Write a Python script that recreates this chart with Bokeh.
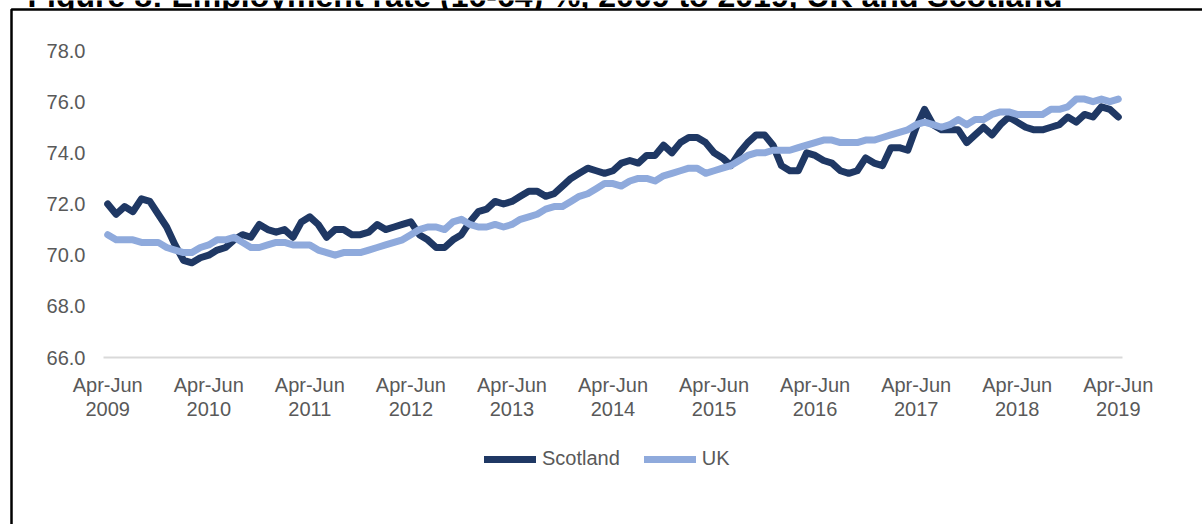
from bokeh.plotting import figure
from bokeh.models import (FixedTicker, Legend, LegendItem, Label, BoxAnnotation,
                          NumeralTickFormatter, ColumnDataSource, Range1d)
from bokeh.embed import file_html
from bokeh.resources import INLINE

# Rolling quarters, Apr-Jun 2009 ... Apr-Jun 2019 (121 periods)
scotland = [
    72.0, 71.6, 71.9, 71.7, 72.2, 72.1, 71.6, 71.1, 70.4, 69.8,
    69.7, 69.9, 70.0, 70.2, 70.3, 70.6, 70.8, 70.7, 71.2, 71.0,
    70.9, 71.0, 70.7, 71.3, 71.5, 71.2, 70.7, 71.0, 71.0, 70.8,
    70.8, 70.9, 71.2, 71.0, 71.1, 71.2, 71.3, 70.8, 70.6, 70.3,
    70.3, 70.6, 70.8, 71.3, 71.7, 71.8, 72.1, 72.0, 72.1, 72.3,
    72.5, 72.5, 72.3, 72.4, 72.7, 73.0, 73.2, 73.4, 73.3, 73.2,
    73.3, 73.6, 73.7, 73.6, 73.9, 73.9, 74.3, 74.0, 74.4, 74.6,
    74.6, 74.4, 74.0, 73.8, 73.5, 74.0, 74.4, 74.7, 74.7, 74.3,
    73.5, 73.3, 73.3, 74.0, 73.9, 73.7, 73.6, 73.3, 73.2, 73.3,
    73.8, 73.6, 73.5, 74.2, 74.2, 74.1, 75.0, 75.7, 75.1, 74.9,
    74.9, 74.9, 74.4, 74.7, 75.0, 74.7, 75.1, 75.4, 75.2, 75.0,
    74.9, 74.9, 75.0, 75.1, 75.4, 75.2, 75.5, 75.4, 75.8, 75.7,
    75.4,
]
uk = [
    70.8, 70.6, 70.6, 70.6, 70.5, 70.5, 70.5, 70.3, 70.2, 70.1,
    70.1, 70.3, 70.4, 70.6, 70.6, 70.7, 70.5, 70.3, 70.3, 70.4,
    70.5, 70.5, 70.4, 70.4, 70.4, 70.2, 70.1, 70.0, 70.1, 70.1,
    70.1, 70.2, 70.3, 70.4, 70.5, 70.6, 70.8, 71.0, 71.1, 71.1,
    71.0, 71.3, 71.4, 71.2, 71.1, 71.1, 71.2, 71.1, 71.2, 71.4,
    71.5, 71.6, 71.8, 71.9, 71.9, 72.1, 72.3, 72.4, 72.6, 72.8,
    72.8, 72.7, 72.9, 73.0, 73.0, 72.9, 73.1, 73.2, 73.3, 73.4,
    73.4, 73.2, 73.3, 73.4, 73.5, 73.7, 73.9, 74.0, 74.0, 74.1,
    74.1, 74.1, 74.2, 74.3, 74.4, 74.5, 74.5, 74.4, 74.4, 74.4,
    74.5, 74.5, 74.6, 74.7, 74.8, 74.9, 75.1, 75.2, 75.1, 75.0,
    75.1, 75.3, 75.1, 75.3, 75.3, 75.5, 75.6, 75.6, 75.5, 75.5,
    75.5, 75.5, 75.7, 75.7, 75.8, 76.1, 76.1, 76.0, 76.1, 76.0,
    76.1,
]
period_index = list(range(len(scotland)))
tick_years = ["2009", "2010", "2011", "2012", "2013", "2014",
              "2015", "2016", "2017", "2018", "2019"]
tick_labels = ["Apr-Jun\n" + y for y in tick_years]
tick_positions = [12 * k for k in range(len(tick_years))]
y_ticks = [66, 68, 70, 72, 74, 76, 78]
series_names = ["Scotland", "UK"]
series_colors = ["#1F3864", "#8FAADC"]
title_text = "Figure 8: Employment rate (16-64) %, 2009 to 2019, UK and Scotland"

FONT = "Liberation Sans"
GREY = "#595959"

W, H = 1202, 524
# plot area (in canvas px): x from 103 to 1122, y from 50 (78.0) to 357 (66.0)
PX_X = (1122 - 103) / 121.0
PX_Y = (357 - 50) / 12.0
x0 = -0.5 - 103 / PX_X
x1 = 120.5 + (W - 1122) / PX_X
y1 = 78 + 50 / PX_Y
y0 = 66 - (H - 357) / PX_Y

p = figure(width=W, height=H, output_backend="svg", toolbar_location=None,
           x_range=Range1d(x0, x1), y_range=Range1d(y0, y1),
           min_border_left=0, min_border_right=0, min_border_top=0,
           min_border_bottom=0)
p.outline_line_color = None
p.xgrid.visible = False
p.ygrid.visible = False
p.background_fill_color = "white"
p.border_fill_color = "white"

# figure title (cut off at the top edge, as in the source image)
p.add_layout(Label(x=27, y=H + 5, x_units="screen", y_units="screen", text=title_text,
                   text_font=FONT, text_font_style="bold", text_font_size="32px",
                   text_color="black", text_baseline="alphabetic", text_align="left",
                   level="underlay"))

# chart box: white area with black top and left edges, covering the title's lower part
p.add_layout(BoxAnnotation(left=11, right=3000, top=H - 9, bottom=-3000,
                           left_units="screen", right_units="screen",
                           top_units="screen", bottom_units="screen",
                           fill_color="white", fill_alpha=1.0,
                           line_color="black", line_alpha=1.0, line_width=2.5,
                           level="underlay"))

src = ColumnDataSource(dict(x=period_index, scotland=scotland, uk=uk))
r_sc = p.line("x", "scotland", source=src, line_color=series_colors[0], line_width=7,
              line_join="round", line_cap="round")
r_uk = p.line("x", "uk", source=src, line_color=series_colors[1], line_width=7,
              line_join="round", line_cap="round")

xa = p.xaxis[0]
xa.fixed_location = 66
xa.bounds = (-0.5, 120.5)
xa.ticker = FixedTicker(ticks=tick_positions)
xa.major_label_overrides = {t: lab for t, lab in zip(tick_positions, tick_labels)}
xa.axis_line_color = "#D9D9D9"
xa.axis_line_width = 2
xa.major_tick_line_color = None
xa.minor_tick_line_color = None
xa.major_tick_out = 0
xa.major_tick_in = 0
xa.major_label_standoff = 16
xa.major_label_text_font = FONT
xa.major_label_text_font_size = "20px"
xa.major_label_text_color = GREY
xa.major_label_text_line_height = 1.1

ya = p.yaxis[0]
ya.fixed_location = -0.5
ya.bounds = (66, 78)
ya.ticker = FixedTicker(ticks=y_ticks)
ya.formatter = NumeralTickFormatter(format="0.0")
ya.axis_line_color = None
ya.major_tick_line_color = None
ya.minor_tick_line_color = None
ya.major_tick_out = 0
ya.major_tick_in = 0
ya.major_label_standoff = 18
ya.major_label_text_font = FONT
ya.major_label_text_font_size = "20px"
ya.major_label_text_color = GREY

legend = Legend(items=[LegendItem(label=series_names[0], renderers=[r_sc]),
                       LegendItem(label=series_names[1], renderers=[r_uk])],
                location=(484, H - 470), orientation="horizontal",
                glyph_width=52, glyph_height=20, label_standoff=6, spacing=24,
                padding=0, margin=0, border_line_color=None,
                background_fill_alpha=0,
                label_text_font=FONT, label_text_font_size="20px",
                label_text_color=GREY)
p.add_layout(legend)

open("out.html", "w").write(file_html(p, INLINE))
